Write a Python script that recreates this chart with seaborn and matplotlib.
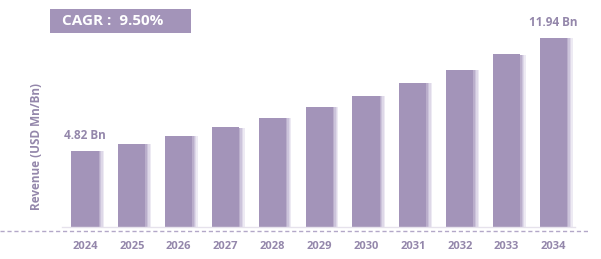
import matplotlib
matplotlib.use("Agg")
import matplotlib.pyplot as plt
import matplotlib.patheffects as pe
from matplotlib.lines import Line2D
from matplotlib.patches import Rectangle
import seaborn as sns
import pandas as pd

years = ["2024", "2025", "2026", "2027", "2028", "2029", "2030", "2031", "2032", "2033", "2034"]
revenue = [4.82, 5.25, 5.76, 6.30, 6.90, 7.58, 8.28, 9.08, 9.92, 10.90, 11.94]
first_label = "4.82 Bn"
last_label = "11.94 Bn"
cagr_text = "CAGR :  9.50%"
y_label = "Revenue (USD Mn/Bn)"

bar_color = "#a394b9"
text_color = "#9487ab"

sns.set_theme(style="white")
plt.rcParams["font.family"] = ["Open Sans", "DejaVu Sans"]

W, H = 601, 259
fig = plt.figure(figsize=(W / 100, H / 100), dpi=100)
left_px, right_px, bottom_px, top_px = 62, 575, 227, 10
ax = fig.add_axes([left_px / W, 1 - bottom_px / H, (right_px - left_px) / W, (bottom_px - top_px) / H])

df = pd.DataFrame({"year": years, "revenue": revenue})
sns.barplot(data=df, x="year", y="revenue", color=bar_color, saturation=1, width=0.58,
            linewidth=0, edgecolor="none", ax=ax)

for p in ax.patches:
    p.set_path_effects([
        pe.SimplePatchShadow(offset=(4.0, -0.3), shadow_rgbFace="#ece8f2", alpha=0.9),
        pe.SimplePatchShadow(offset=(3.0, -0.3), shadow_rgbFace="#ddd6e7", alpha=0.9),
        pe.SimplePatchShadow(offset=(2.0, -0.3), shadow_rgbFace="#cbc2da", alpha=0.9),
        pe.SimplePatchShadow(offset=(1.0, -0.3), shadow_rgbFace="#b8acca", alpha=0.9),
        pe.Normal(),
    ])

ax.set_xlim(-0.49, 10.46)
ax.set_ylim(0, (bottom_px - top_px) / 15.85)
for s in ["top", "right", "left"]:
    ax.spines[s].set_visible(False)
ax.spines["bottom"].set_color("#e6e2ec")
ax.spines["bottom"].set_linewidth(1.0)
ax.set_yticks([])
ax.set_xlabel("")
ax.set_ylabel("")
ax.tick_params(axis="x", length=0, pad=10, labelsize=8, labelcolor=text_color)
for t in ax.get_xticklabels():
    t.set_fontweight("bold")

ax.text(0, revenue[0] + 0.55, first_label, ha="center", va="bottom", fontsize=8.5,
        fontweight="bold", color=text_color)
ax.text(len(years) - 1, revenue[-1] + 0.55, last_label, ha="center", va="bottom", fontsize=8.5,
        fontweight="bold", color=text_color)

fig.add_artist(Line2D([0, 590 / W], [1 - 231 / H, 1 - 231 / H], transform=fig.transFigure,
                      color="#b3a8c8", linewidth=1.0, linestyle=(0, (3, 2))))

fig.text(36 / W, 1 - 146 / H, y_label, rotation=90, ha="center", va="center",
         fontsize=8.5, color=text_color, fontweight="bold")

fig.add_artist(Rectangle((50 / W, 1 - 33 / H), (191 - 50) / W, 24 / H, transform=fig.transFigure,
                         facecolor=bar_color, edgecolor="none"))
fig.text(62 / W, 1 - 21 / H, cagr_text, ha="left", va="center", fontsize=11,
         fontweight="bold", color="white")

fig.savefig("out.png", dpi=100)
